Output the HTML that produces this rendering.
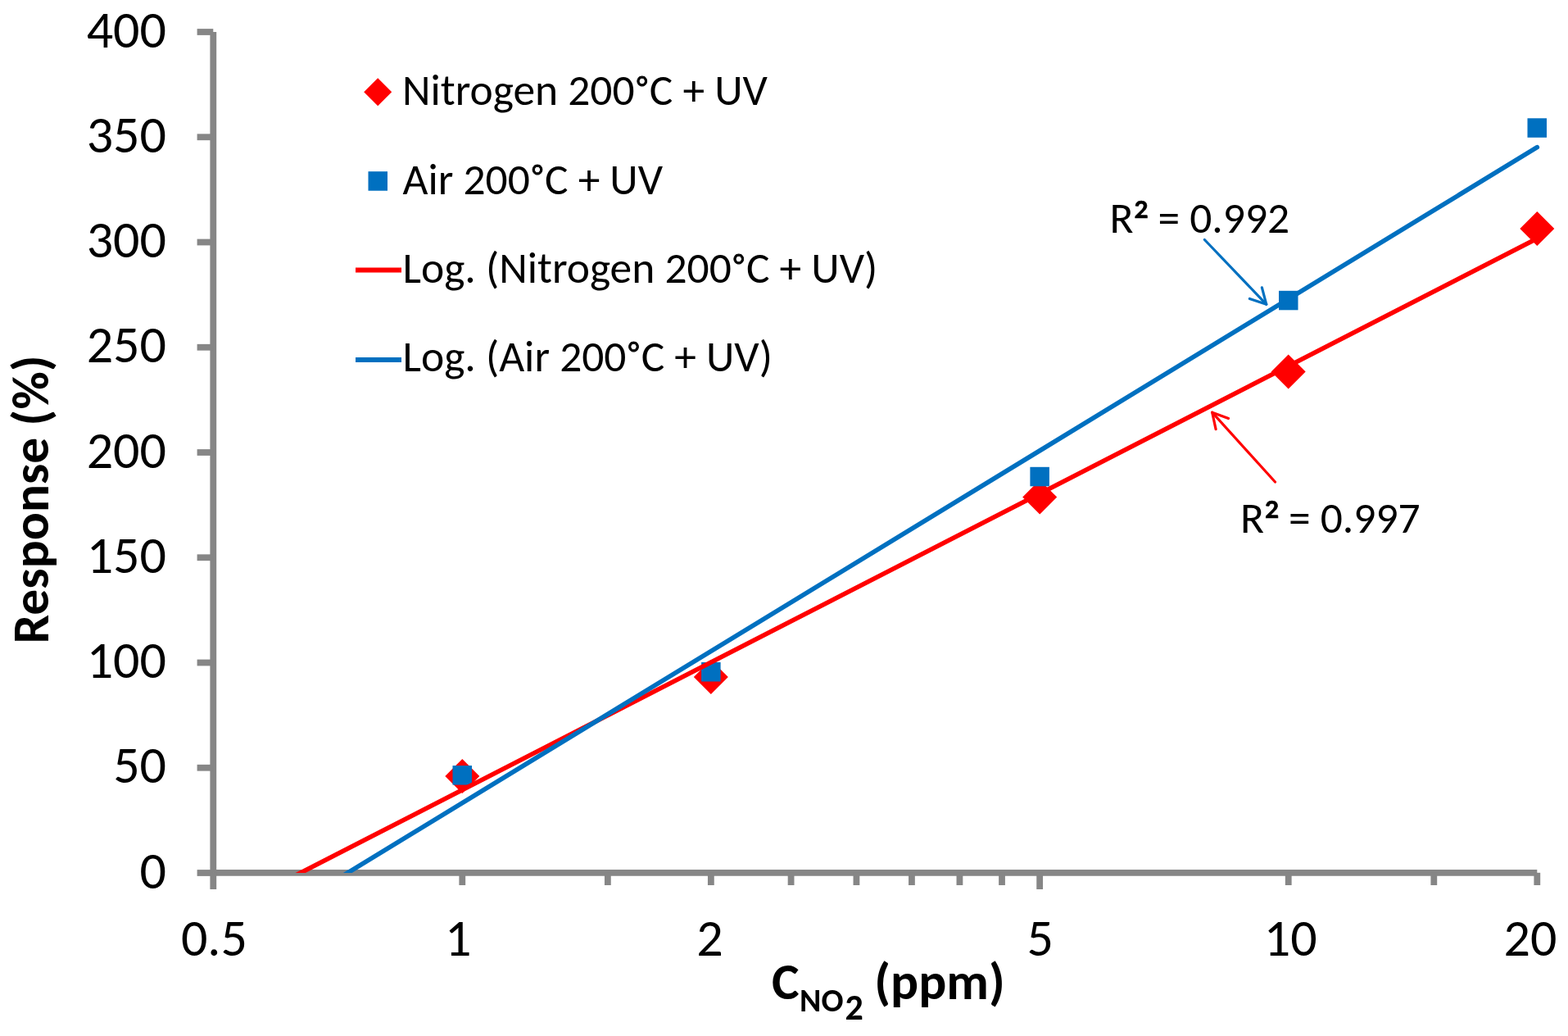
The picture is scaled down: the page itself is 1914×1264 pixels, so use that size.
<!DOCTYPE html>
<html><head><meta charset="utf-8"><title>Response vs NO2 concentration</title>
<style>html,body{margin:0;padding:0;background:#fff;overflow:hidden;}svg{display:block;}text{font-family:Carlito,"Liberation Sans",Arial,sans-serif;fill:#000;font-size-adjust:0.4775;}text.b{font-weight:bold;font-size-adjust:0.4849;}</style></head><body>
<svg width="1914" height="1264" viewBox="0 0 1914 1264">
<rect x="0" y="0" width="1914" height="1264" fill="#fff"/>
<defs><clipPath id="plot"><rect x="260.7" y="20" width="1650" height="1045"/></clipPath></defs>
<g stroke="#868686" stroke-width="7.8">
<line x1="260.3" y1="39.0" x2="260.3" y2="1064.8"/>
<line x1="240.6" y1="39.00" x2="260.3" y2="39.00"/>
<line x1="240.6" y1="167.25" x2="260.3" y2="167.25"/>
<line x1="240.6" y1="295.50" x2="260.3" y2="295.50"/>
<line x1="240.6" y1="423.75" x2="260.3" y2="423.75"/>
<line x1="240.6" y1="552.00" x2="260.3" y2="552.00"/>
<line x1="240.6" y1="680.25" x2="260.3" y2="680.25"/>
<line x1="240.6" y1="808.50" x2="260.3" y2="808.50"/>
<line x1="240.6" y1="936.75" x2="260.3" y2="936.75"/>
<line x1="240.6" y1="1065.00" x2="260.3" y2="1065.00"/>
<line x1="260.3" y1="1064.8" x2="1876.3" y2="1064.8"/>
<line x1="260.30" y1="1064.8" x2="260.30" y2="1085"/>
<line x1="1269.15" y1="1064.8" x2="1269.15" y2="1085"/>
<line x1="564.27" y1="1064.8" x2="564.27" y2="1080"/>
<line x1="741.85" y1="1064.8" x2="741.85" y2="1080"/>
<line x1="867.85" y1="1064.8" x2="867.85" y2="1080"/>
<line x1="965.58" y1="1064.8" x2="965.58" y2="1080"/>
<line x1="1045.43" y1="1064.8" x2="1045.43" y2="1080"/>
<line x1="1112.94" y1="1064.8" x2="1112.94" y2="1080"/>
<line x1="1171.42" y1="1064.8" x2="1171.42" y2="1080"/>
<line x1="1223.01" y1="1064.8" x2="1223.01" y2="1080"/>
<line x1="1572.73" y1="1064.8" x2="1572.73" y2="1080"/>
<line x1="1750.31" y1="1064.8" x2="1750.31" y2="1080"/>
<line x1="1876.30" y1="1064.8" x2="1876.30" y2="1080"/>
</g>
<text x="203" y="57.5" font-size="64" text-anchor="end" textLength="97.297" lengthAdjust="spacingAndGlyphs">400</text>
<text x="203" y="185.8" font-size="64" text-anchor="end" textLength="97.297" lengthAdjust="spacingAndGlyphs">350</text>
<text x="203" y="314.0" font-size="64" text-anchor="end" textLength="97.297" lengthAdjust="spacingAndGlyphs">300</text>
<text x="203" y="442.2" font-size="64" text-anchor="end" textLength="97.297" lengthAdjust="spacingAndGlyphs">250</text>
<text x="203" y="570.5" font-size="64" text-anchor="end" textLength="97.297" lengthAdjust="spacingAndGlyphs">200</text>
<text x="203" y="698.8" font-size="64" text-anchor="end" textLength="97.297" lengthAdjust="spacingAndGlyphs">150</text>
<text x="203" y="827.0" font-size="64" text-anchor="end" textLength="97.297" lengthAdjust="spacingAndGlyphs">100</text>
<text x="203" y="955.2" font-size="64" text-anchor="end" textLength="64.859" lengthAdjust="spacingAndGlyphs">50</text>
<text x="203" y="1083.5" font-size="64" text-anchor="end" textLength="32.438" lengthAdjust="spacingAndGlyphs">0</text>
<text x="261.4" y="1166" font-size="64" text-anchor="middle" textLength="81.016" lengthAdjust="spacingAndGlyphs">0.5</text>
<text x="559.1" y="1166" font-size="64" text-anchor="middle" textLength="32.438" lengthAdjust="spacingAndGlyphs">1</text>
<text x="866.4" y="1166" font-size="64" text-anchor="middle" textLength="32.438" lengthAdjust="spacingAndGlyphs">2</text>
<text x="1269.8" y="1166" font-size="64" text-anchor="middle" textLength="32.438" lengthAdjust="spacingAndGlyphs">5</text>
<text x="1575.2" y="1166" font-size="64" text-anchor="middle" textLength="64.859" lengthAdjust="spacingAndGlyphs">10</text>
<text x="1868.0" y="1166" font-size="64" text-anchor="middle" textLength="64.859" lengthAdjust="spacingAndGlyphs">20</text>
<text class="b" transform="translate(58.6,609.5) rotate(-90)" font-size="63.5" text-anchor="middle" textLength="351.922" lengthAdjust="spacingAndGlyphs">Response (%)</text>
<text class="b" font-size="63.5"><tspan x="942" y="1218.6" textLength="33.625" lengthAdjust="spacingAndGlyphs">C</tspan><tspan x="976.1" y="1233.6" font-size="40" textLength="53.406" lengthAdjust="spacingAndGlyphs">NO</tspan><tspan x="1031.5" y="1243.6" font-size="44" textLength="22.312" lengthAdjust="spacingAndGlyphs">2</tspan><tspan x="1067.3" y="1218.6" textLength="159.375" lengthAdjust="spacingAndGlyphs">(ppm)</tspan></text>
<path d="M564.3 926.0L585.3 947.0L564.3 968.0L543.3 947.0Z" fill="#FF0000"/>
<path d="M867.8 805.0L888.8 826.0L867.8 847.0L846.8 826.0Z" fill="#FF0000"/>
<path d="M1269.2 585.6L1290.2 606.6L1269.2 627.6L1248.2 606.6Z" fill="#FF0000"/>
<path d="M1572.7 432.4L1593.7 453.4L1572.7 474.4L1551.7 453.4Z" fill="#FF0000"/>
<path d="M1876.3 258.1L1897.3 279.1L1876.3 300.1L1855.3 279.1Z" fill="#FF0000"/>
<rect x="552.5" y="934.1" width="23.5" height="23.5" fill="#0070C0"/>
<rect x="856.1" y="808.0" width="23.5" height="23.5" fill="#0070C0"/>
<rect x="1257.4" y="569.8" width="23.5" height="23.5" fill="#0070C0"/>
<rect x="1561.0" y="354.8" width="23.5" height="23.5" fill="#0070C0"/>
<rect x="1864.5" y="144.3" width="23.5" height="23.5" fill="#0070C0"/>
<g clip-path="url(#plot)" stroke-width="5.6" stroke-linecap="round">
<line x1="340" y1="1078.7" x2="1876.3" y2="291.0" stroke="#FF0000"/>
<line x1="400" y1="1079.8" x2="1876.3" y2="179.7" stroke="#0070C0"/>
</g>
<path d="M461.2 95.3L478.2 112.3L461.2 129.3L444.2 112.3Z" fill="#FF0000"/>
<rect x="449.5" y="209.2" width="23.5" height="23.5" fill="#0070C0"/>
<line x1="434" y1="329.5" x2="490" y2="329.5" stroke="#FF0000" stroke-width="6"/>
<line x1="434" y1="439" x2="490" y2="439" stroke="#0070C0" stroke-width="6"/>
<text x="491" y="128.4" font-size="53.5" textLength="445.825" lengthAdjust="spacingAndGlyphs">Nitrogen 200<tspan font-size="38.5" dx="2.6" dy="-8.5" stroke="#000" stroke-width="0.9">°</tspan><tspan dx="2.6" dy="8.5">C + UV</tspan></text>
<text x="491.5" y="236.5" font-size="53.5" textLength="317.559" lengthAdjust="spacingAndGlyphs">Air 200<tspan font-size="38.5" dx="2.6" dy="-8.5" stroke="#000" stroke-width="0.9">°</tspan><tspan dx="2.6" dy="8.5">C + UV</tspan></text>
<text x="491.5" y="345.2" font-size="53.5" textLength="579.716" lengthAdjust="spacingAndGlyphs">Log. (Nitrogen 200<tspan font-size="38.5" dx="2.6" dy="-8.5" stroke="#000" stroke-width="0.9">°</tspan><tspan dx="2.6" dy="8.5">C + UV)</tspan></text>
<text x="491.5" y="452.8" font-size="53.5" textLength="451.434" lengthAdjust="spacingAndGlyphs">Log. (Air 200<tspan font-size="38.5" dx="2.6" dy="-8.5" stroke="#000" stroke-width="0.9">°</tspan><tspan dx="2.6" dy="8.5">C + UV)</tspan></text>
<text x="1354.4" y="284.3" font-size="53.5" textLength="219.812" lengthAdjust="spacingAndGlyphs">R<tspan font-size="61" dx="-0.8" dy="8.6" stroke="#000" stroke-width="0.6">²</tspan><tspan dx="-1.7" dy="-8.6"> = 0.992</tspan></text>
<text x="1513.9" y="650.2" font-size="53.5" textLength="219.812" lengthAdjust="spacingAndGlyphs">R<tspan font-size="61" dx="-0.8" dy="8.6" stroke="#000" stroke-width="0.6">²</tspan><tspan dx="-1.7" dy="-8.6"> = 0.997</tspan></text>
<g fill="none" stroke="#0070C0" stroke-width="3.2" stroke-linecap="round" stroke-linejoin="round"><line x1="1470.4" y1="292.5" x2="1545.8" y2="371.3"/><polyline points="1525.4,364.5 1545.8,371.3 1540.4,350.9"/></g>
<g fill="none" stroke="#FF0000" stroke-width="3.2" stroke-linecap="round" stroke-linejoin="round"><line x1="1556.5" y1="588" x2="1479.7" y2="503.2"/><polyline points="1499.5,510.5 1479.7,503.2 1484.1,523.6"/></g>
</svg></body></html>
